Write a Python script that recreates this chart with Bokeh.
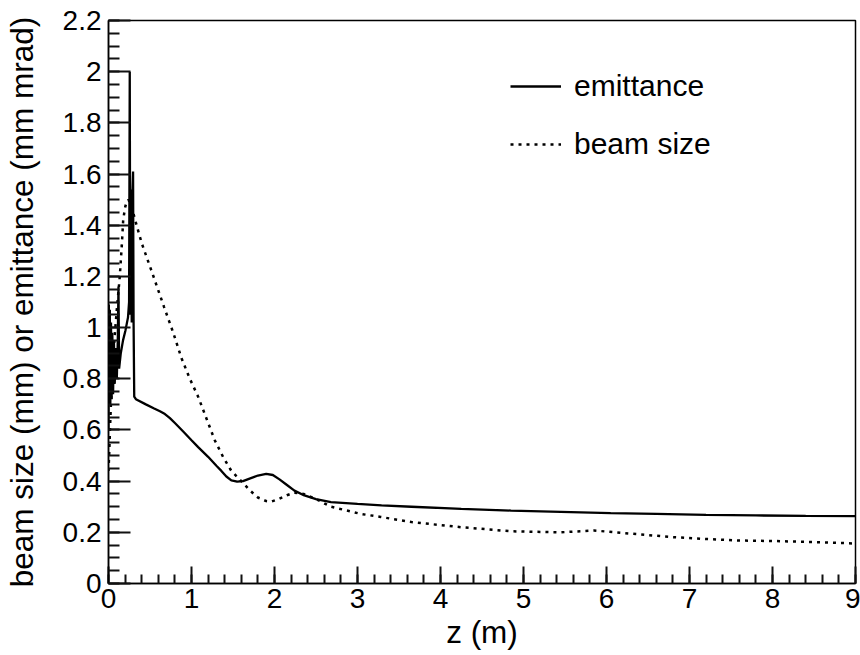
from bokeh.plotting import figure
from bokeh.models import Legend, LegendItem, Range1d, SingleIntervalTicker
from bokeh.embed import file_html
from bokeh.resources import INLINE

# emittance (solid)
z_emit = [0.000, 0.004, 0.010, 0.016, 0.022, 0.030, 0.038, 0.046, 0.055, 0.065,
          0.075, 0.088, 0.100, 0.112, 0.120, 0.128, 0.148, 0.175, 0.205, 0.235,
          0.248, 0.256, 0.262, 0.270, 0.280, 0.288, 0.296, 0.302, 0.310, 0.330,
          0.450, 0.550, 0.620, 0.680, 0.740, 0.800, 0.900, 1.000, 1.080, 1.200,
          1.300, 1.360, 1.420, 1.480, 1.550, 1.620, 1.700, 1.800, 1.900, 1.980,
          2.060, 2.150, 2.240, 2.360, 2.500, 2.680, 3.000, 3.290, 3.650, 4.250,
          4.850, 5.450, 6.050, 6.600, 7.200, 7.800, 8.400, 9.000]
emittance = [0.60, 1.09, 0.75, 1.07, 0.70, 1.02, 0.72, 0.98, 0.74, 0.95,
             0.78, 0.92, 0.80, 0.95, 1.16, 0.84, 0.90, 0.95, 0.99, 1.04,
             1.10, 2.00, 1.05, 1.54, 1.02, 1.52, 1.61, 1.03, 0.73, 0.72,
             0.700, 0.684, 0.673, 0.662, 0.646, 0.627, 0.594, 0.560, 0.533, 0.495,
             0.460, 0.440, 0.418, 0.403, 0.398, 0.400, 0.410, 0.422, 0.428, 0.424,
             0.407, 0.385, 0.363, 0.344, 0.330, 0.318, 0.311, 0.305, 0.300, 0.292,
             0.285, 0.280, 0.275, 0.272, 0.268, 0.266, 0.264, 0.263]

# beam size (dotted)
z_beam = [0.000, 0.010, 0.020, 0.035, 0.050, 0.075, 0.100, 0.136, 0.160, 0.177,
          0.200, 0.217, 0.240, 0.270, 0.297, 0.330, 0.400, 0.520, 0.670, 0.780,
          0.880, 0.980, 1.080, 1.180, 1.280, 1.380, 1.480, 1.600, 1.700, 1.800,
          1.900, 1.960, 2.050, 2.150, 2.240, 2.350, 2.500, 2.680, 3.040, 3.280,
          3.650, 4.250, 4.850, 5.450, 5.850, 6.000, 6.400, 6.800, 7.200, 7.600,
          8.000, 8.400, 8.700, 9.000]
beam_size = [0.44, 0.52, 0.62, 0.75, 0.85, 0.97, 1.07, 1.20, 1.32, 1.42,
             1.47, 1.49, 1.50, 1.48, 1.45, 1.41, 1.33, 1.22, 1.08, 0.98,
             0.88, 0.80, 0.73, 0.645, 0.56, 0.495, 0.44, 0.40, 0.365, 0.336,
             0.322, 0.320, 0.330, 0.345, 0.355, 0.350, 0.330, 0.300, 0.272, 0.260,
             0.240, 0.220, 0.204, 0.200, 0.207, 0.203, 0.192, 0.181, 0.174, 0.168,
             0.166, 0.163, 0.160, 0.156]

series_labels = ["emittance", "beam size"]
x_title = "z (m)"
y_title = "beam size (mm) or emittance (mm mrad)"

X_MIN, X_MAX, X_MAJOR = 0.0, 9.0, 1.0
Y_MIN, Y_MAX, Y_MAJOR = 0.0, 2.2, 0.2

FONT = "Liberation Sans"

p = figure(width=860, height=655, output_backend="svg", toolbar_location=None,
           x_range=Range1d(X_MIN, X_MAX), y_range=Range1d(Y_MIN, Y_MAX),
           min_border_left=107, min_border_right=5, min_border_top=20,
           min_border_bottom=72)
p.background_fill_color = "white"
p.border_fill_color = "white"
p.outline_line_color = "black"
p.outline_line_width = 1.5
p.xgrid.visible = False
p.ygrid.visible = False

p.xaxis.ticker = SingleIntervalTicker(interval=X_MAJOR, num_minor_ticks=5)
p.yaxis.ticker = SingleIntervalTicker(interval=Y_MAJOR, num_minor_ticks=4)
p.yaxis.formatter.use_scientific = False

for ax in (p.xaxis[0], p.yaxis[0]):
    ax.axis_line_color = "black"
    ax.axis_line_width = 1.5
    ax.major_tick_out = 0
    ax.minor_tick_out = 0
    ax.major_tick_line_color = "#111111"
    ax.minor_tick_line_color = "#111111"
    ax.major_tick_line_width = 2
    ax.minor_tick_line_width = 2
    ax.major_label_text_font = FONT
    ax.major_label_text_font_size = "28px"
    ax.major_label_text_color = "black"
    ax.axis_label_text_font = FONT
    ax.axis_label_text_font_size = "31.5px"
    ax.axis_label_text_font_style = "normal"
    ax.axis_label_text_color = "black"

# ROOT-style inward ticks
p.xaxis.major_tick_in = 17
p.xaxis.minor_tick_in = 9
p.yaxis.major_tick_in = 22
p.yaxis.minor_tick_in = 11
p.xaxis.major_label_standoff = 5
p.yaxis.major_label_standoff = 7
p.xaxis.axis_label = x_title
p.yaxis.axis_label = y_title
p.xaxis.axis_label_standoff = 3
p.yaxis.axis_label_standoff = 20

r_emit = p.line(z_emit, emittance, line_color="black", line_width=2.3)
r_beam = p.line(z_beam, beam_size, line_color="black", line_width=2.5, line_dash="3 5")

legend = Legend(items=[LegendItem(label=series_labels[0], renderers=[r_emit]),
                       LegendItem(label=series_labels[1], renderers=[r_beam])],
                location=(402, 422))
legend.label_text_font = FONT
legend.label_text_font_size = "30px"
legend.label_text_color = "black"
legend.glyph_width = 51
legend.glyph_height = 30
legend.label_height = 30
legend.spacing = 24
legend.padding = 0
legend.margin = 0
legend.label_standoff = 13
legend.border_line_alpha = 0
legend.background_fill_alpha = 0
p.add_layout(legend)

open("out.html", "w").write(file_html(p, INLINE))
